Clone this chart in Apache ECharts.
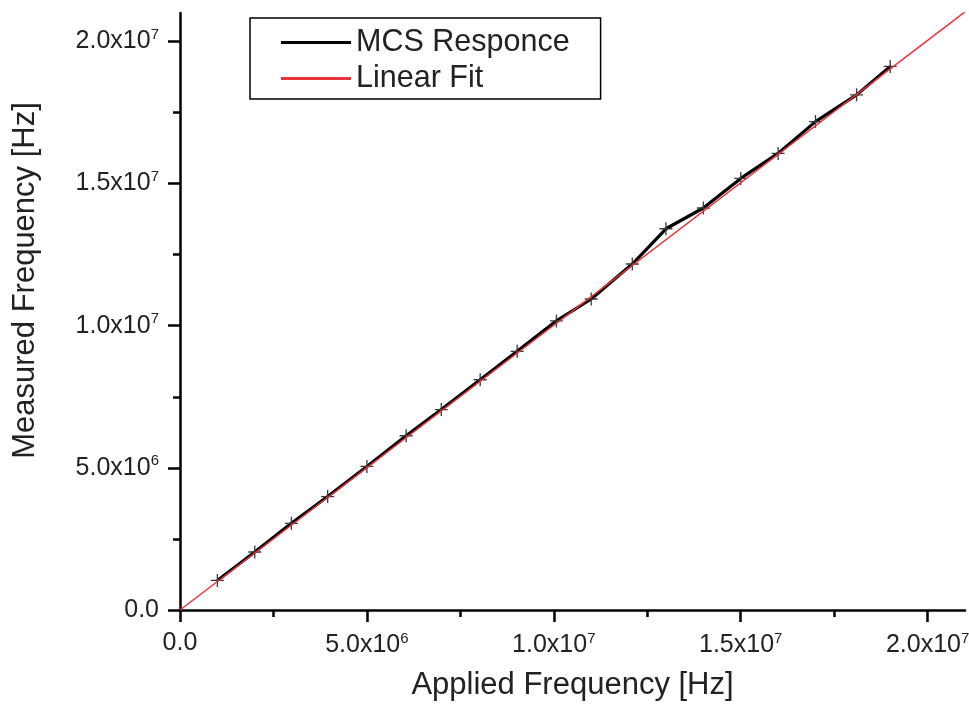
<!DOCTYPE html>
<html><head><meta charset="utf-8">
<script src="https://cdn.jsdelivr.net/npm/echarts@6/dist/echarts.min.js"></script>
<style>html,body{margin:0;padding:0;background:#fff}#c{width:969px;height:704px}</style>
</head><body><div id="c"></div>
<script>
// ---- data ----
const appliedHz  = [1.0e6, 2.0e6, 2.98e6, 3.95e6, 5.0e6, 6.05e6, 6.99e6, 8.03e6, 9.02e6, 1.007e7, 1.10e7, 1.21e7, 1.30e7, 1.40e7, 1.50e7, 1.60e7, 1.70e7, 1.81e7, 1.90e7];
const measuredHz = [1.04e6, 2.04e6, 3.05e6, 3.99e6, 5.05e6, 6.13e6, 7.05e6, 8.10e6, 9.10e6, 1.017e7, 1.094e7, 1.217e7, 1.341e7, 1.414e7, 1.518e7, 1.606e7, 1.718e7, 1.812e7, 1.912e7];
const fitX = [0, 2.1e7];
const fitY = [0, 2.104e7];
const majorTicks = [0, 5e6, 1e7, 1.5e7, 2e7];
const minorTicks = [2.5e6, 7.5e6, 1.25e7, 1.75e7];
const seriesNames = ['MCS Responce', 'Linear Fit'];
const axisNames = ['Applied Frequency [Hz]', 'Measured Frequency [Hz]'];

const FONT = 'Liberation Sans, Arial, sans-serif';
const TXT = '#222';

function fmt(v) {
  if (v === 0) return '{m|0.0}';
  const e = Math.floor(Math.log10(v) + 1e-9);
  const m = (v / Math.pow(10, e)).toFixed(1);
  return '{m|' + m + 'x10}{s|' + e + '}';
}
const rich = {
  m: { fontSize: 25, color: TXT, fontFamily: FONT },
  s: { fontSize: 15, color: TXT, fontFamily: FONT, padding: [0, 0, 13, 0] }
};
const lineCol = { color: '#000', width: 2.5 };

function mainAxis(name, isX) {
  return {
    type: 'value', min: 0, max: 2.1e7,
    position: isX ? 'bottom' : 'left',
    axisLine: { show: true, onZero: false, lineStyle: lineCol },
    axisTick: { show: true, inside: false, length: 12, customValues: majorTicks, lineStyle: lineCol },
    axisLabel: { show: true, customValues: majorTicks, formatter: fmt, margin: 21, rich: rich },
    splitLine: { show: false },
    name: name, nameLocation: 'middle',
    nameGap: isX ? 60 : 139,
    nameTextStyle: isX
      ? { fontSize: 31, color: TXT, fontFamily: FONT }
      : { fontSize: 31, color: TXT, fontFamily: FONT, padding: [0, 0, 0, 62] }
  };
}
function minorAxis(isX) {
  return {
    type: 'value', min: 0, max: 2.1e7,
    position: isX ? 'bottom' : 'left',
    axisLine: { show: false, onZero: false },
    axisTick: { show: true, inside: false, length: 7, customValues: minorTicks, lineStyle: lineCol },
    axisLabel: { show: false },
    splitLine: { show: false }
  };
}

const chart = echarts.init(document.getElementById('c'), null, { renderer: 'canvas' });
chart.setOption({
  animation: false,
  backgroundColor: '#fff',
  grid: { left: 180, right: 4, top: 13, bottom: 94, containLabel: false, outerBoundsMode: 'none' },
  legend: {
    orient: 'vertical', left: 250, top: 18,
    padding: [9, 31, 5, 31],
    borderColor: '#000', borderWidth: 1.5, backgroundColor: '#fff',
    itemWidth: 70, itemHeight: 3, itemGap: 5,
    textStyle: { fontSize: 30.5, color: TXT, fontFamily: FONT, lineHeight: 30 },
    data: [
      { name: seriesNames[0], icon: 'rect', itemStyle: { color: '#000' } },
      { name: seriesNames[1], icon: 'rect', itemStyle: { color: '#e8343a' } }
    ]
  },
  xAxis: [mainAxis(axisNames[0], true), minorAxis(true)],
  yAxis: [mainAxis(axisNames[1], false), minorAxis(false)],
  series: [
    {
      name: seriesNames[0], type: 'line', xAxisIndex: 0, yAxisIndex: 0, z: 2,
      data: appliedHz.map((x, i) => [x, measuredHz[i]]),
      color: '#000',
      lineStyle: { color: '#000', width: 3.2 },
      symbol: 'path://M5.4,0H6.6V5.4H12V6.6H6.6V12H5.4V6.6H0V5.4H5.4Z',
      symbolSize: 13, showSymbol: true,
      itemStyle: { color: '#3a3a3a' }
    },
    {
      name: seriesNames[1], type: 'line', xAxisIndex: 0, yAxisIndex: 0, z: 3,
      data: fitX.map((x, i) => [x, fitY[i]]),
      color: '#e8343a',
      lineStyle: { color: '#e8343a', width: 1.5 },
      symbol: 'none', clip: true
    }
  ]
});
</script></body></html>
